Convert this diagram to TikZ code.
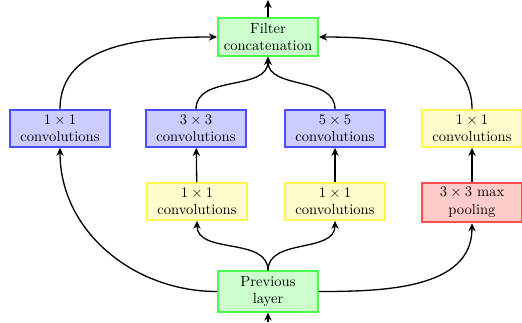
\documentclass[tikz,border=0pt]{standalone}
\usetikzlibrary{arrows.meta}
\begin{document}
\begin{tikzpicture}[x=0.685pt,y=-0.685pt,
  box/.style={draw,line width=1.4pt,minimum width=68.5pt,align=center,inner xsep=2pt,inner ysep=3.3pt},
  bluebox/.style={box,draw=blue!70,fill=blue!20},
  greenbox/.style={box,draw=green!70,fill=green!20},
  yellowbox/.style={box,draw=yellow!70,fill=yellow!20},
  redbox/.style={box,draw=red!70,fill=red!20},
  conn/.style={-{Stealth[length=5.5pt,width=5pt,inset=1.8pt]},line width=0.9pt}]
\useasboundingbox (0,0) rectangle (522,322);
\node[greenbox] (fc) at (268,37) {Filter\\concatenation};
\node[greenbox] (prev) at (268,291.5) {Previous\\layer};
\node[bluebox] (c1) at (60,128.5) {$1\times 1$\\convolutions};
\node[bluebox] (c3) at (196,128.5) {$3\times 3$\\convolutions};
\node[bluebox] (c5) at (335,128.5) {$5\times 5$\\convolutions};
\node[yellowbox] (y4) at (472,128.5) {$1\times 1$\\convolutions};
\node[yellowbox] (y2) at (197,201.5) {$1\times 1$\\convolutions};
\node[yellowbox] (y3) at (335,201.5) {$1\times 1$\\convolutions};
\node[redbox] (pool) at (472,202.5) {$3\times 3$ max\\pooling};
\coordinate (top) at (268,0);
\coordinate (bot) at (268,322);
\draw[conn] (fc.north) -- (top);
\draw[conn] (bot) -- (prev.south);
\draw[conn] (prev.north) to[out=90,in=-90] (y2.south);
\draw[conn] (prev.north) to[out=90,in=-90] (y3.south);
\draw[conn] (prev.west) to[out=180,in=-90] (c1.south);
\draw[conn] (prev.east) to[out=0,in=-90] (pool.south);
\draw[conn] (y2) -- (c3);
\draw[conn] (y3) -- (c5);
\draw[conn] (pool) -- (y4);
\draw[conn] (c1.north) to[out=90,in=180] (fc.west);
\draw[conn] (c3.north) to[out=90,in=-90] (fc.south);
\draw[conn] (c5.north) to[out=90,in=-90] (fc.south);
\draw[conn] (y4.north) to[out=90,in=0] (fc.east);
\end{tikzpicture}
\end{document}
